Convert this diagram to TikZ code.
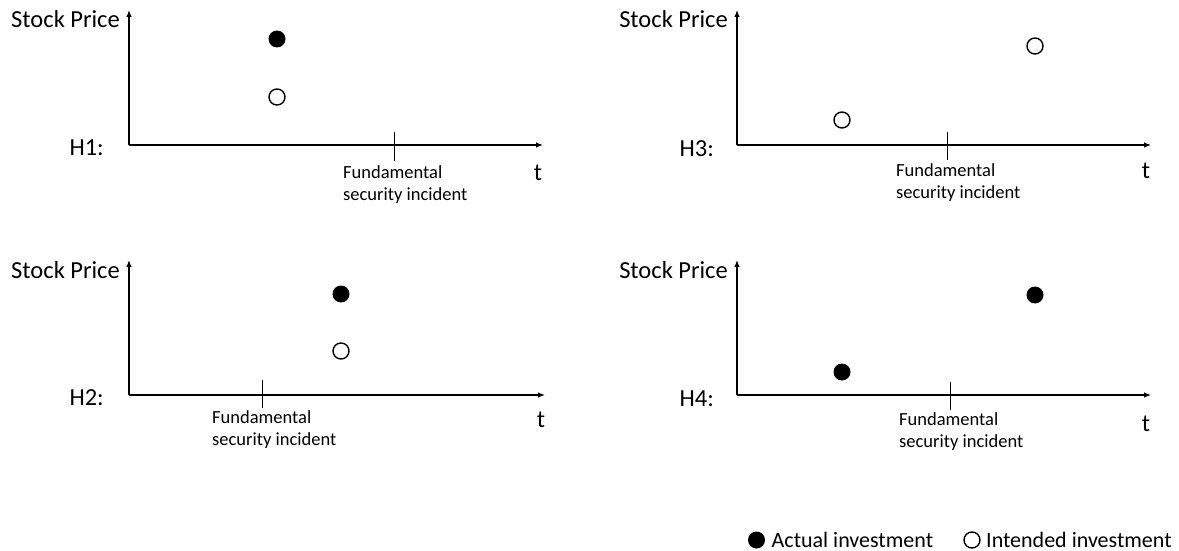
\documentclass[tikz,border=0pt]{standalone}
\usepackage{fontspec}
\setmainfont{Carlito}
\usetikzlibrary{arrows.meta}
\begin{document}
\begin{tikzpicture}[x=1pt,y=-1pt,
  axis/.style={line width=1.2pt,-{Latex[length=7pt,width=5.5pt]}},
  tickmark/.style={line width=0.9pt},
  big/.style={font=\fontsize{24.5}{28}\selectfont, inner sep=0pt},
  small/.style={font=\fontsize{18.5}{22.3}\selectfont, inner sep=0pt, align=left},
  leg/.style={font=\fontsize{22}{26}\selectfont, inner sep=0pt},
  actual/.style={circle, fill=black, minimum size=17pt, inner sep=0pt},
  intended/.style={circle, draw=black, line width=1.4pt, minimum width=15pt, minimum height=16pt, inner sep=0pt}]
\useasboundingbox (0,0) rectangle (1179,551);
% ---------- H1 ----------
\coordinate (o1) at (129,145);
\coordinate (y1) at (129,10);
\coordinate (x1) at (543,145);
\draw[axis] (o1) -- (y1);
\draw[axis] (o1) -- (x1);
\coordinate (t1a) at (394,132); \coordinate (t1b) at (394,161);
\draw[tickmark] (t1a) -- (t1b);
\node[big, anchor=base east] (sp1) at (120,28) {Stock Price};
\node[big, anchor=base east] (h1) at (104,155) {H1:};
\node[big, anchor=base] (tt1) at (538,180) {t};
\node[small, anchor=north west] (f1) at (343,165) {Fundamental\\security incident};
\node[actual] (a1) at (277,39) {};
\node[intended] (i1) at (277,97) {};
% ---------- H3 ----------
\coordinate (o3) at (737,145);
\coordinate (y3) at (737,10);
\coordinate (x3) at (1151,145);
\draw[axis] (o3) -- (y3);
\draw[axis] (o3) -- (x3);
\coordinate (t3a) at (947,132); \coordinate (t3b) at (947,160);
\draw[tickmark] (t3a) -- (t3b);
\node[big, anchor=base east] (sp3) at (728,28) {Stock Price};
\node[big, anchor=base east] (h3) at (714,156) {H3:};
\node[big, anchor=base] (tt3) at (1146,178) {t};
\node[small, anchor=north west] (f3) at (896,163) {Fundamental\\security incident};
\node[intended] (i3a) at (842,120) {};
\node[intended] (i3b) at (1035,46) {};
% ---------- H2 ----------
\coordinate (o2) at (129,395);
\coordinate (y2) at (129,260);
\coordinate (x2) at (545,395);
\draw[axis] (o2) -- (y2);
\draw[axis] (o2) -- (x2);
\coordinate (t2a) at (262,380); \coordinate (t2b) at (262,408);
\draw[tickmark] (t2a) -- (t2b);
\node[big, anchor=base east] (sp2) at (120,278) {Stock Price};
\node[big, anchor=base east] (h2) at (104,405) {H2:};
\node[big, anchor=base] (tt2) at (541,427) {t};
\node[small, anchor=north west] (f2) at (212,410) {Fundamental\\security incident};
\node[actual] (a2) at (341,294) {};
\node[intended] (i2) at (341,351) {};
% ---------- H4 ----------
\coordinate (o4) at (737,395);
\coordinate (y4) at (737,260);
\coordinate (x4) at (1151,395);
\draw[axis] (o4) -- (y4);
\draw[axis] (o4) -- (x4);
\coordinate (t4a) at (950,382); \coordinate (t4b) at (950,410);
\draw[tickmark] (t4a) -- (t4b);
\node[big, anchor=base east] (sp4) at (728,278) {Stock Price};
\node[big, anchor=base east] (h4) at (714,406) {H4:};
\node[big, anchor=base] (tt4) at (1146,431) {t};
\node[small, anchor=north west] (f4) at (899,412) {Fundamental\\security incident};
\node[actual] (a4a) at (842,372) {};
\node[actual] (a4b) at (1035,295) {};
% ---------- legend ----------
\node[actual] (la) at (756.5,540) {};
\node[leg, anchor=base west] (lat) at (771.5,547) {Actual investment};
\node[intended] (li) at (972,540) {};
\node[leg, anchor=base west] (lit) at (986,547) {Intended investment};
\end{tikzpicture}
\end{document}
